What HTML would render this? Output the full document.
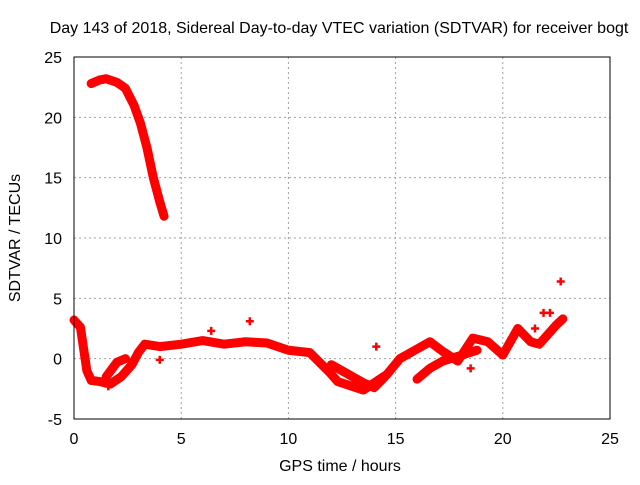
<!DOCTYPE html>
<html><head><meta charset="utf-8"><style>
body{margin:0;background:#fff;font-family:"Liberation Sans",sans-serif}
svg text{font-family:"Liberation Sans",sans-serif;font-size:16px;fill:#000}
</style></head><body>
<svg id="c" width="640" height="480">
<text x="339" y="33" text-anchor="middle">Day 143 of 2018, Sidereal Day-to-day VTEC variation (SDTVAR) for receiver bogt</text>
<text x="340" y="471" text-anchor="middle">GPS time / hours</text>
<text transform="translate(20,238) rotate(-90)" text-anchor="middle">SDTVAR / TECUs</text>
<g id="grid"></g><g id="ticks"></g><g id="data"></g>
<rect x="74" y="57" width="536" height="362" fill="none" stroke="#000" stroke-width="1"/>
</svg>
<script>
const xTicks=[0,5,10,15,20,25];
const yTicks=[-5,0,5,10,15,20,25];
const seriesMorning=[[0.8,22.8],[1.2,23.1],[1.5,23.2],[2,22.9],[2.4,22.4],[2.8,21],[3.1,19.5],[3.4,17.5],[3.7,15],[4,13],[4.2,11.8]];
const seriesMain=[[0,3.2],[0.3,2.6],[0.6,-1],[0.8,-1.8],[1.2,-1.9],[1.7,-2.1],[2.2,-1.5],[2.7,-0.5],[3,0.5],[3.3,1.2],[4,1],[5,1.2],[6,1.5],[7,1.2],[8,1.4],[9,1.3],[10,0.7],[11,0.5],[11.9,-1.1],[12.3,-1.9],[13.5,-2.6],[14.6,-1.3],[15.2,0],[16,0.8],[16.6,1.4],[17.2,0.6],[17.9,-0.2],[18.6,1.7],[19.3,1.4],[20,0.3],[20.7,2.5],[21.3,1.4],[21.7,1.2],[22.5,2.8],[22.8,3.3]];
const seriesBranchA=[[1.5,-1.5],[2,-0.3],[2.4,0]];
const seriesBranchB=[[12,-0.5],[13,-1.5],[13.5,-2],[14,-2.4],[14.5,-1.5]];
const seriesBranchC=[[16,-1.7],[16.6,-0.8],[17.2,-0.2],[18.1,0.3],[18.8,0.7]];
const outliers=[[22.7,6.4],[8.2,3.1],[14.1,1.0],[6.4,2.3],[21.9,3.8],[22.2,3.8],[1.6,-2.3],[4,-0.1],[18.5,-0.8],[21.5,2.5]];
const X=v=>74+v*536/25, Y=v=>419-(v+5)*362/30;
const NS="http://www.w3.org/2000/svg";
const g=document.getElementById('grid'),t=document.getElementById('ticks'),d=document.getElementById('data');
function mk(tag,a,p){const e=document.createElementNS(NS,tag);for(const k in a)e.setAttribute(k,a[k]);p.appendChild(e);return e;}
xTicks.forEach(v=>{
 if(v>0&&v<25){const l=mk('line',{x1:X(v),x2:X(v),y1:57,y2:419,stroke:'#a0a0a0','stroke-dasharray':'2,3'},g);
 
 }
 const tx=mk('text',{x:X(v),y:444,'text-anchor':'middle'},t);tx.textContent=v;
 
 
});
yTicks.forEach(v=>{
 if(v>-5&&v<25){const l=mk('line',{x1:74,x2:610,y1:Y(v),y2:Y(v),stroke:'#a0a0a0','stroke-dasharray':'2,3'},g);
 
 }
 const tx=mk('text',{x:62,y:Y(v)+6,'text-anchor':'end'},t);tx.textContent=v;
 
 
});
[[seriesMorning,'series-morning'],[seriesMain,'series-main'],[seriesBranchA,'series-branch-a'],[seriesBranchB,'series-branch-b'],[seriesBranchC,'series-branch-c']].forEach(([s,n])=>{
 const p=mk('polyline',{points:s.map(q=>X(q[0])+','+Y(q[1])).join(' '),fill:'none',stroke:'#ff0000','stroke-width':9,'stroke-linejoin':'round','stroke-linecap':'round'},d);
 
 
});
outliers.forEach(q=>{
 const p=mk('path',{d:`M${X(q[0])-4},${Y(q[1])}h8M${X(q[0])},${Y(q[1])-4}v8`,stroke:'#ff0000','stroke-width':2.5},d);
 
 
});
</script>
</body></html>
